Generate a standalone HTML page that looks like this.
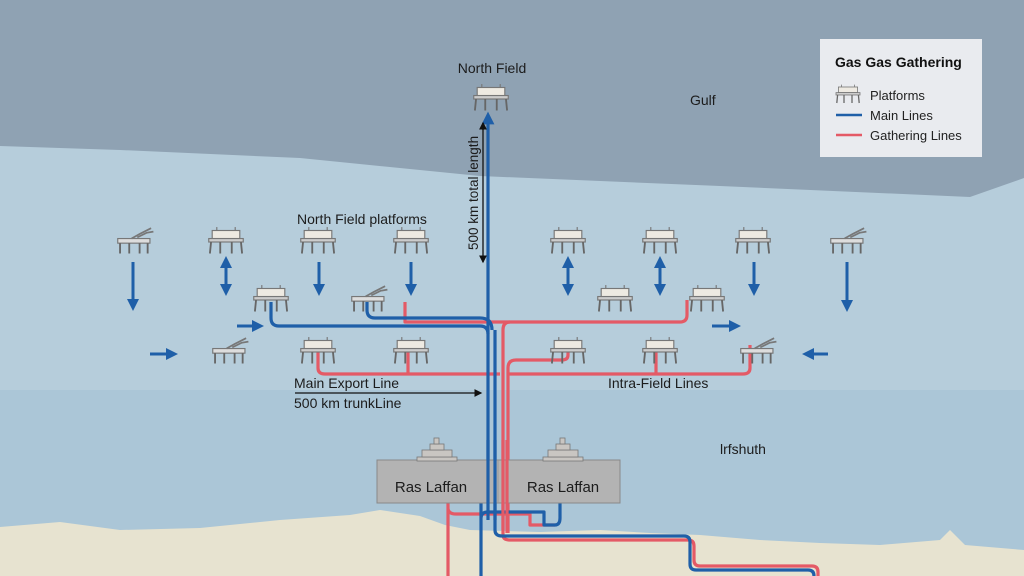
<!DOCTYPE html>
<html><head><meta charset="utf-8"><style>
html,body{margin:0;padding:0;width:1024px;height:576px;overflow:hidden}
svg{display:block;font-family:"Liberation Sans",sans-serif}
</style></head><body>
<svg width="1024" height="576" viewBox="0 0 1024 576">
<defs>
<g id="p0">
<rect x="-12" y="-10" width="24" height="7" fill="#eeeae2" stroke="#777" stroke-width="1"/>
<line x1="-8" y1="-13" x2="-8" y2="-10" stroke="#777"/><line x1="8" y1="-13" x2="8" y2="-10" stroke="#777"/>
<rect x="-15" y="-3" width="30" height="3" fill="#ccc" stroke="#777" stroke-width="1"/>
<path d="M-13 0 L-14 10 M-5 0 V10 M5 0 V10 M13 0 L14 10" stroke="#666" stroke-width="1.6" fill="none"/>
</g>
<g id="p"><use href="#p0" transform="scale(1.15)"/></g>
<g id="q0">
<rect x="-15" y="-3" width="28" height="4" fill="#ddd" stroke="#777" stroke-width="1"/>
<path d="M-3 -3 L4 -7 L14 -12 M2 -4 L10 -8 L16 -9" stroke="#777" stroke-width="1.5" fill="none"/>
<path d="M-13 1 V10 M-5 1 V10 M4 1 V10 M11 1 V10" stroke="#666" stroke-width="1.6" fill="none"/>
</g>
<g id="q"><use href="#q0" transform="scale(1.15)"/></g>
<marker id="ab" markerWidth="4" markerHeight="4" refX="2" refY="2" orient="auto"><path d="M0 0 L4 2 L0 4Z" fill="#1f5fa8"/></marker>
<marker id="ak" markerWidth="6" markerHeight="6" refX="5" refY="3" orient="auto"><path d="M0 0 L6 3 L0 6Z" fill="#111"/></marker>
</defs>
<rect width="1024" height="576" fill="#b6cddb"/>
<path d="M0 0 H1024 V178 L970 197 L720 186 L480 176 L300 158 L120 150 L0 146Z" fill="#8fa2b3"/>
<rect x="0" y="390" width="1024" height="186" fill="#abc6d7"/>
<path d="M0 527 L60 522 L120 530 L200 528 L280 520 L350 515 L380 510 L420 516 L445 525 L470 530 L540 532 L600 530 L650 533 L700 535 L760 540 L820 543 L880 545 L940 540 L950 530 L965 545 L1024 550 V576 H0Z" fill="#e7e3d0"/>
<!-- red lines -->
<g fill="none" stroke="#e45a66" stroke-width="3.2" stroke-linejoin="round">
<path d="M687 300 V315 Q687 322 680 322 H510 Q503 322 503 330 V535 Q503 540 510 540 H688 Q694 540 694 546 V560 Q694 566 700 566 H812 Q818 566 818 572 V576"/>
<path d="M405 302 V322 H510"/>
<path d="M318 345 V368 Q318 374 325 374 H500"/>
<path d="M408 345 V374"/>
<path d="M568 345 V355 Q568 360 562 360 H516 Q508 360 508 368 V533"/>
<path d="M656 345 V374 M750 345 V368 Q750 374 743 374 H507"/>
<path d="M448 500 V576 M448 508 Q448 514 456 514 H530 V525 H555"/>
</g>
<!-- blue lines -->
<g fill="none" stroke="#1f5fa8" stroke-width="3.2" stroke-linejoin="round">
<path d="M488 126 V500"/>
<path d="M495 330 V530 Q495 536 502 536 H684 Q690 536 690 542 V564 Q690 570 696 570 H808 Q814 570 814 576"/>
<path d="M271 302 V318 Q271 326 279 326 H480 Q488 326 488 334"/>
<path d="M367 302 V310 Q367 318 375 318 H480 Q492 318 492 330"/>
<path d="M481 500 V576 M481 518 Q481 512 488 512 H544 V525 H555 Q560 525 560 518 V500"/>
</g>
<path d="M488 126 V118" stroke="#1f5fa8" stroke-width="3.2" marker-end="url(#ab)"/>
<!-- platforms -->
<use href="#p" x="491" y="99"/>
<g transform="translate(0,2)">
<use href="#q" x="135" y="240"/><use href="#p" x="226" y="240"/><use href="#p" x="318" y="240"/><use href="#p" x="411" y="240"/>
<use href="#p" x="568" y="240"/><use href="#p" x="660" y="240"/><use href="#p" x="753" y="240"/><use href="#q" x="848" y="240"/>
<use href="#p" x="271" y="298"/><use href="#q" x="369" y="298"/><use href="#p" x="615" y="298"/><use href="#p" x="707" y="298"/>
<use href="#q" x="230" y="350"/><use href="#p" x="318" y="350"/><use href="#p" x="411" y="350"/><use href="#p" x="568" y="350"/><use href="#p" x="660" y="350"/><use href="#q" x="758" y="350"/>
</g>
<!-- arrows -->
<g stroke="#1f5fa8" stroke-width="3" marker-end="url(#ab)">
<line x1="133" y1="262" x2="133" y2="305"/><line x1="319" y1="262" x2="319" y2="290"/><line x1="411" y1="262" x2="411" y2="290"/>
<line x1="754" y1="262" x2="754" y2="290"/><line x1="847" y1="262" x2="847" y2="306"/>
<line x1="226" y1="272" x2="226" y2="290"/><line x1="226" y1="280" x2="226" y2="262"/>
<line x1="568" y1="272" x2="568" y2="290"/><line x1="568" y1="280" x2="568" y2="262"/>
<line x1="660" y1="272" x2="660" y2="290"/><line x1="660" y1="280" x2="660" y2="262"/>
<line x1="237" y1="326" x2="258" y2="326"/><line x1="150" y1="354" x2="172" y2="354"/>
<line x1="712" y1="326" x2="735" y2="326"/><line x1="828" y1="354" x2="808" y2="354"/>
</g>
<!-- dimension arrows -->
<line x1="483" y1="130" x2="483" y2="123" stroke="#111" stroke-width="1.3" marker-end="url(#ak)"/>
<line x1="483" y1="125" x2="483" y2="262" stroke="#111" stroke-width="1.3" marker-end="url(#ak)"/>
<line x1="295" y1="393" x2="481" y2="393" stroke="#111" stroke-width="1.3" marker-end="url(#ak)"/>
<!-- Ras Laffan -->
<rect x="377" y="460" width="243" height="43" fill="#b3b3b3" stroke="#888"/>
<line x1="498" y1="460" x2="498" y2="503" stroke="#999"/>
<g fill="#c9c6c2" stroke="#777" stroke-width="0.8">
<rect x="417" y="457" width="40" height="4"/><rect x="422" y="450" width="30" height="7"/><rect x="430" y="444" width="14" height="6"/><rect x="434" y="438" width="5" height="6"/>
<rect x="543" y="457" width="40" height="4"/><rect x="548" y="450" width="30" height="7"/><rect x="556" y="444" width="14" height="6"/><rect x="560" y="438" width="5" height="6"/>
</g>
<g fill="none" stroke-width="3.2"><path d="M488 440 V520" stroke="#1f5fa8"/><path d="M495 440 V520" stroke="#1f5fa8"/><path d="M503 440 V530" stroke="#e45a66"/><path d="M507 440 V533" stroke="#e45a66"/></g>
<g font-size="14" fill="#1c1c1c">
<text x="431" y="492" text-anchor="middle" font-size="15">Ras Laffan</text>
<text x="563" y="492" text-anchor="middle" font-size="15">Ras Laffan</text>
<text x="492" y="73" text-anchor="middle">North Field</text>
<text x="690" y="105">Gulf</text>
<text x="297" y="224">North Field platforms</text>
<text x="294" y="388">Main Export Line</text>
<text x="294" y="408">500 km trunkLine</text>
<text x="608" y="388">Intra-Field Lines</text>
<text x="720" y="454">lrfshuth</text>
<text transform="translate(478,250) rotate(-90)" font-size="13.5">500 km total length</text>
</g>
<!-- legend -->
<rect x="820" y="39" width="162" height="118" fill="#e9ebef"/>
<text x="835" y="67" font-size="14" font-weight="bold" fill="#111">Gas Gas Gathering</text>
<g transform="translate(848,95) scale(0.8)"><use href="#p0" x="0" y="0"/></g>
<line x1="836" y1="115" x2="862" y2="115" stroke="#1f5fa8" stroke-width="2.5"/>
<line x1="836" y1="135" x2="862" y2="135" stroke="#e45a66" stroke-width="2.5"/>
<g font-size="13" fill="#222"><text x="870" y="100">Platforms</text><text x="870" y="120">Main Lines</text><text x="870" y="140">Gathering Lines</text></g>
</svg>
</body></html>
